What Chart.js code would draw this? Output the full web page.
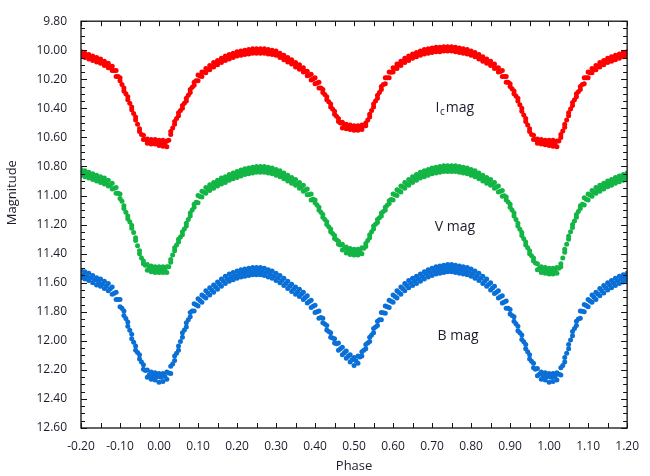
<!DOCTYPE html>
<html>
<head>
<meta charset="utf-8">
<script src="https://cdn.jsdelivr.net/npm/chart.js@4.4.1/dist/chart.umd.min.js"></script>
<style>
html,body{margin:0;padding:0;background:#fff;}
#wrap{width:650px;height:476px;position:relative;}
</style>
</head>
<body>
<div id="wrap"><canvas id="c" width="650" height="476"></canvas></div>
<script>
// Phase grid (every 0.01 from -0.20 to 1.20)
const phase = [-0.20,-0.19,-0.18,-0.17,-0.16,-0.15,-0.14,-0.13,-0.12,-0.11,-0.10,-0.09,-0.08,-0.07,-0.06,-0.05,-0.04,-0.03,-0.02,-0.01,
0.00,0.01,0.02,0.03,0.04,0.05,0.06,0.07,0.08,0.09,0.10,0.11,0.12,0.13,0.14,0.15,0.16,0.17,0.18,0.19,
0.20,0.21,0.22,0.23,0.24,0.25,0.26,0.27,0.28,0.29,0.30,0.31,0.32,0.33,0.34,0.35,0.36,0.37,0.38,0.39,
0.40,0.41,0.42,0.43,0.44,0.45,0.46,0.47,0.48,0.49,0.50,0.51,0.52,0.53,0.54,0.55,0.56,0.57,0.58,0.59,
0.60,0.61,0.62,0.63,0.64,0.65,0.66,0.67,0.68,0.69,0.70,0.71,0.72,0.73,0.74,0.75,0.76,0.77,0.78,0.79,
0.80,0.81,0.82,0.83,0.84,0.85,0.86,0.87,0.88,0.89,0.90,0.91,0.92,0.93,0.94,0.95,0.96,0.97,0.98,0.99,
1.00,1.01,1.02,1.03,1.04,1.05,1.06,1.07,1.08,1.09,1.10,1.11,1.12,1.13,1.14,1.15,1.16,1.17,1.18,1.19,1.20];
// Half-step phases (-0.195 ... 1.195)
const phaseHalf = [-0.195,-0.185,-0.175,-0.165,-0.155,-0.145,-0.135,-0.125,-0.115,-0.105,
-0.095,-0.085,-0.075,-0.065,-0.055,-0.045,-0.035,-0.025,-0.015,-0.005,
0.005,0.015,0.025,0.035,0.045,0.055,0.065,0.075,0.085,0.095,
0.105,0.115,0.125,0.135,0.145,0.155,0.165,0.175,0.185,0.195,
0.205,0.215,0.225,0.235,0.245,0.255,0.265,0.275,0.285,0.295,
0.305,0.315,0.325,0.335,0.345,0.355,0.365,0.375,0.385,0.395,
0.405,0.415,0.425,0.435,0.445,0.455,0.465,0.475,0.485,0.495,
0.505,0.515,0.525,0.535,0.545,0.555,0.565,0.575,0.585,0.595,
0.605,0.615,0.625,0.635,0.645,0.655,0.665,0.675,0.685,0.695,
0.705,0.715,0.725,0.735,0.745,0.755,0.765,0.775,0.785,0.795,
0.805,0.815,0.825,0.835,0.845,0.855,0.865,0.875,0.885,0.895,
0.905,0.915,0.925,0.935,0.945,0.955,0.965,0.975,0.985,0.995,
1.005,1.015,1.025,1.035,1.045,1.055,1.065,1.075,1.085,1.095,
1.105,1.115,1.125,1.135,1.145,1.155,1.165,1.175,1.185,1.195];

// Ic band: upper (bright) edge and lower (faint) edge, plus band centre at half steps
const icUpper = [10.01,10.02,10.03,10.04,10.05,10.06,10.075,10.09,10.11,10.14,10.19,10.26,10.32,10.39,10.46,10.54,10.585,10.61,10.615,10.615,
10.62,10.62,10.625,10.56,10.49,10.43,10.38,10.33,10.27,10.22,10.17,10.15,10.125,10.105,10.085,10.07,10.055,10.04,10.03,10.02,
10.01,10.005,10.0,9.995,9.99,9.99,9.99,9.99,9.995,10.0,10.005,10.02,10.035,10.05,10.065,10.085,10.10,10.12,10.145,10.165,
10.19,10.22,10.27,10.32,10.37,10.42,10.47,10.495,10.51,10.515,10.52,10.52,10.515,10.50,10.44,10.37,10.31,10.25,10.19,10.15,
10.12,10.095,10.075,10.055,10.04,10.025,10.015,10.005,9.995,9.99,9.985,9.98,9.98,9.975,9.975,9.975,9.98,9.985,9.99,9.995,
10.005,10.015,10.03,10.045,10.06,10.075,10.095,10.12,10.14,10.18,10.23,10.28,10.33,10.40,10.47,10.54,10.585,10.61,10.615,10.62,
10.62,10.62,10.625,10.58,10.51,10.43,10.36,10.30,10.25,10.19,10.15,10.125,10.105,10.085,10.07,10.055,10.045,10.035,10.025,10.015,10.01];
const icLower = [10.04,10.05,10.06,10.07,10.08,10.09,10.105,10.12,10.14,10.18,10.21,10.28,10.34,10.41,10.48,10.56,10.615,10.64,10.645,10.645,
10.655,10.66,10.665,10.58,10.51,10.45,10.40,10.35,10.29,10.24,10.21,10.18,10.155,10.135,10.115,10.10,10.085,10.07,10.06,10.05,
10.04,10.035,10.03,10.025,10.02,10.02,10.02,10.02,10.025,10.03,10.035,10.05,10.065,10.08,10.095,10.115,10.13,10.15,10.175,10.205,
10.23,10.26,10.29,10.34,10.39,10.44,10.49,10.535,10.54,10.545,10.55,10.55,10.545,10.52,10.46,10.39,10.33,10.27,10.23,10.19,
10.15,10.125,10.105,10.085,10.07,10.055,10.045,10.035,10.025,10.02,10.015,10.01,10.01,10.005,10.005,10.005,10.01,10.015,10.02,10.025,
10.035,10.045,10.06,10.075,10.09,10.105,10.125,10.15,10.18,10.22,10.25,10.30,10.35,10.42,10.49,10.56,10.615,10.64,10.645,10.65,
10.655,10.66,10.665,10.60,10.53,10.45,10.38,10.32,10.27,10.23,10.19,10.155,10.135,10.115,10.10,10.085,10.075,10.065,10.055,10.045,10.04];
const icHalf = [10.03,10.04,10.05,10.06,10.07,10.082,10.097,10.115,10.14,10.18,
10.235,10.30,10.365,10.435,10.51,10.58,10.615,10.628,10.63,10.632,
10.638,10.643,10.62,10.535,10.47,10.415,10.365,10.31,10.255,10.21,
10.177,10.152,10.13,10.11,10.092,10.077,10.062,10.05,10.04,10.03,
10.022,10.017,10.012,10.007,10.005,10.005,10.005,10.007,10.012,10.017,
10.027,10.042,10.057,10.072,10.09,10.107,10.125,10.147,10.172,10.197,
10.225,10.26,10.305,10.355,10.405,10.455,10.50,10.52,10.528,10.533,
10.535,10.533,10.522,10.48,10.415,10.35,10.29,10.235,10.19,10.152,
10.122,10.10,10.08,10.062,10.047,10.035,10.025,10.015,10.007,10.002,
9.997,9.995,9.992,9.99,9.99,9.992,9.997,10.002,10.007,10.015,
10.025,10.037,10.052,10.067,10.082,10.10,10.122,10.147,10.18,10.22,
10.265,10.315,10.375,10.445,10.515,10.58,10.615,10.628,10.633,10.635,
10.638,10.643,10.625,10.555,10.48,10.405,10.34,10.285,10.235,10.19,
10.155,10.13,10.11,10.092,10.077,10.065,10.055,10.045,10.035,10.027];

// V band
const vUpper = [10.82,10.83,10.84,10.85,10.86,10.87,10.88,10.895,10.915,10.945,10.99,11.07,11.14,11.205,11.29,11.38,11.45,11.475,11.485,11.49,
11.49,11.49,11.49,11.44,11.36,11.30,11.25,11.19,11.12,11.06,11.0,10.97,10.945,10.925,10.91,10.895,10.88,10.87,10.855,10.845,
10.835,10.825,10.815,10.81,10.805,10.80,10.80,10.80,10.805,10.81,10.82,10.83,10.845,10.86,10.875,10.89,10.91,10.93,10.955,10.99,
11.03,11.08,11.13,11.18,11.23,11.275,11.315,11.335,11.355,11.365,11.37,11.37,11.36,11.33,11.27,11.21,11.165,11.12,11.08,11.035,
10.99,10.96,10.935,10.91,10.89,10.87,10.855,10.84,10.83,10.82,10.81,10.805,10.80,10.795,10.795,10.795,10.795,10.80,10.805,10.81,
10.82,10.83,10.845,10.86,10.875,10.89,10.91,10.935,10.965,11.01,11.06,11.12,11.19,11.255,11.32,11.38,11.43,11.47,11.49,11.495,
11.50,11.50,11.495,11.47,11.37,11.28,11.20,11.13,11.07,11.015,10.99,10.965,10.945,10.93,10.915,10.90,10.89,10.875,10.865,10.855,10.845];
const vLower = [10.86,10.87,10.88,10.89,10.90,10.91,10.92,10.935,10.955,10.985,11.02,11.09,11.16,11.225,11.31,11.40,11.47,11.515,11.525,11.53,
11.53,11.53,11.53,11.46,11.38,11.32,11.27,11.21,11.14,11.08,11.05,11.01,10.985,10.965,10.95,10.935,10.92,10.91,10.895,10.885,
10.875,10.865,10.855,10.85,10.845,10.84,10.84,10.84,10.845,10.85,10.86,10.87,10.885,10.90,10.915,10.93,10.95,10.97,10.995,11.03,
11.05,11.10,11.15,11.20,11.25,11.295,11.335,11.375,11.395,11.405,11.41,11.41,11.40,11.35,11.29,11.23,11.185,11.14,11.10,11.055,
11.03,11.0,10.975,10.95,10.93,10.91,10.895,10.88,10.87,10.86,10.85,10.845,10.84,10.835,10.835,10.835,10.835,10.84,10.845,10.85,
10.86,10.87,10.885,10.90,10.915,10.93,10.95,10.975,11.005,11.03,11.08,11.14,11.21,11.275,11.34,11.40,11.45,11.51,11.53,11.535,
11.54,11.54,11.535,11.49,11.39,11.30,11.22,11.15,11.09,11.065,11.03,11.005,10.985,10.97,10.955,10.94,10.93,10.915,10.905,10.895,10.885];
const vHalf = [10.845,10.855,10.865,10.875,10.885,10.895,10.907,10.925,10.95,10.985,
11.04,11.115,11.18,11.255,11.345,11.43,11.48,11.50,11.508,11.51,
11.51,11.51,11.49,11.41,11.34,11.285,11.23,11.165,11.10,11.047,
11.007,10.977,10.955,10.937,10.922,10.907,10.895,10.882,10.87,10.86,
10.85,10.84,10.832,10.827,10.822,10.82,10.82,10.822,10.827,10.835,
10.845,10.857,10.872,10.887,10.902,10.92,10.94,10.962,10.992,11.025,
11.065,11.115,11.165,11.215,11.262,11.305,11.34,11.365,11.38,11.388,
11.39,11.385,11.362,11.31,11.25,11.197,11.152,11.11,11.067,11.027,
10.995,10.967,10.942,10.92,10.90,10.882,10.867,10.855,10.845,10.835,
10.827,10.822,10.817,10.815,10.815,10.815,10.817,10.822,10.827,10.835,
10.845,10.857,10.872,10.887,10.902,10.92,10.942,10.97,11.002,11.045,
11.10,11.165,11.232,11.297,11.36,11.415,11.465,11.50,11.513,11.518,
11.52,11.518,11.50,11.43,11.335,11.25,11.175,11.11,11.06,11.025,
10.997,10.975,10.957,10.942,10.927,10.915,10.902,10.89,10.88,10.87];

// B band
const bUpper = [11.515,11.525,11.535,11.55,11.565,11.575,11.59,11.605,11.63,11.665,11.715,11.795,11.87,11.955,12.035,12.095,12.165,12.20,12.215,12.22,
12.225,12.225,12.215,12.175,12.105,12.035,11.945,11.875,11.805,11.745,11.71,11.685,11.655,11.635,11.615,11.595,11.575,11.555,11.54,11.53,
11.52,11.51,11.505,11.50,11.495,11.495,11.495,11.50,11.51,11.52,11.535,11.55,11.57,11.59,11.61,11.63,11.645,11.665,11.69,11.72,
11.755,11.795,11.845,11.895,11.945,11.985,12.015,12.045,12.07,12.095,12.115,12.105,12.075,12.025,11.975,11.915,11.865,11.805,11.76,11.72,
11.685,11.655,11.63,11.605,11.585,11.57,11.555,11.54,11.525,11.51,11.50,11.49,11.485,11.48,11.475,11.475,11.48,11.485,11.49,11.495,
11.505,11.52,11.535,11.555,11.575,11.60,11.625,11.655,11.69,11.725,11.785,11.835,11.90,11.96,12.025,12.095,12.155,12.19,12.215,12.22,
12.225,12.225,12.22,12.185,12.115,12.025,11.935,11.865,11.795,11.75,11.715,11.685,11.665,11.64,11.62,11.60,11.585,11.57,11.555,11.545,11.535];
const bLower = [11.565,11.575,11.585,11.60,11.615,11.625,11.64,11.655,11.68,11.715,11.765,11.825,11.90,11.985,12.065,12.125,12.195,12.25,12.265,12.27,
12.285,12.28,12.265,12.225,12.135,12.065,11.975,11.905,11.835,11.795,11.76,11.735,11.705,11.685,11.665,11.645,11.625,11.605,11.59,11.58,
11.57,11.56,11.555,11.55,11.545,11.545,11.545,11.55,11.56,11.57,11.585,11.60,11.62,11.64,11.66,11.68,11.695,11.715,11.74,11.77,
11.805,11.845,11.875,11.925,11.975,12.015,12.065,12.095,12.12,12.145,12.17,12.155,12.105,12.055,12.005,11.945,11.895,11.855,11.81,11.77,
11.735,11.705,11.68,11.655,11.635,11.62,11.605,11.59,11.575,11.56,11.55,11.54,11.535,11.53,11.525,11.525,11.53,11.535,11.54,11.545,
11.555,11.57,11.585,11.605,11.625,11.65,11.675,11.705,11.74,11.775,11.815,11.865,11.93,11.99,12.055,12.125,12.185,12.24,12.265,12.27,
12.285,12.28,12.27,12.235,12.145,12.055,11.965,11.895,11.845,11.80,11.765,11.735,11.715,11.69,11.67,11.65,11.635,11.62,11.605,11.595,11.585];
const bHalf = [11.545,11.555,11.567,11.582,11.595,11.607,11.622,11.642,11.672,11.715,
11.775,11.847,11.927,12.01,12.08,12.145,12.205,12.233,12.243,12.248,
12.25,12.245,12.222,12.16,12.085,12.005,11.925,11.855,11.795,11.752,
11.722,11.695,11.67,11.65,11.63,11.61,11.59,11.572,11.56,11.55,
11.54,11.532,11.527,11.522,11.52,11.52,11.522,11.53,11.54,11.552,
11.567,11.585,11.605,11.625,11.645,11.662,11.68,11.702,11.73,11.762,
11.80,11.84,11.885,11.935,11.98,12.02,12.055,12.082,12.107,12.13,
12.137,12.112,12.065,12.015,11.96,11.905,11.855,11.807,11.765,11.727,
11.695,11.667,11.642,11.62,11.602,11.587,11.572,11.557,11.542,11.53,
11.52,11.512,11.507,11.502,11.50,11.502,11.507,11.512,11.517,11.525,
11.537,11.552,11.57,11.59,11.612,11.637,11.665,11.697,11.732,11.775,
11.825,11.882,11.945,12.007,12.075,12.14,12.195,12.23,12.243,12.248,
12.25,12.248,12.23,12.17,12.085,11.995,11.915,11.85,11.797,11.757,
11.725,11.70,11.677,11.655,11.635,11.617,11.602,11.587,11.575,11.565];

const seriesLabels = ['Ic mag','V mag','B mag'];
const xTickValues = [-0.20,-0.10,0.00,0.10,0.20,0.30,0.40,0.50,0.60,0.70,0.80,0.90,1.00,1.10,1.20];
const yTickValues = [9.80,10.00,10.20,10.40,10.60,10.80,11.00,11.20,11.40,11.60,11.80,12.00,12.20,12.40,12.60];

const RED = '#ff0000', GREEN = '#13b545', BLUE = '#0a6fd6';
const FONT = "'Open Sans', 'DejaVu Sans', sans-serif";
const TXT = '#1c1c2c';

function pts(xs, ys){ return xs.map((p,i)=>({x:p, y:ys[i]})); }
function ds(label, xs, ys, color){
  return {label, data: pts(xs, ys), backgroundColor: color, borderColor: color, borderWidth: 0, pointRadius: 2.5, pointHoverRadius: 2.5, showLine:false};
}

const decor = {
  id:'decor',
  afterDraw(chart){
    const ctx = chart.ctx, a = chart.chartArea, xs = chart.scales.x, ys = chart.scales.y;
    ctx.save();
    ctx.strokeStyle = '#111';
    ctx.lineWidth = 1.3;
    ctx.strokeRect(a.left, a.top, a.right-a.left, a.bottom-a.top);
    ctx.lineWidth = 1;
    ctx.beginPath();
    for(let k=-4;k<=24;k++){
      const px = Math.round(xs.getPixelForValue(k*0.05))+0.5;
      ctx.moveTo(px, a.bottom); ctx.lineTo(px, a.bottom-5);
      ctx.moveTo(px, a.top); ctx.lineTo(px, a.top+5);
    }
    for(let k=196;k<=252;k++){
      const py = Math.round(ys.getPixelForValue(k*0.05))+0.5;
      const len = (k%4===0)?6:4;
      ctx.moveTo(a.left, py); ctx.lineTo(a.left+len, py);
      ctx.moveTo(a.right, py); ctx.lineTo(a.right-len, py);
    }
    ctx.stroke();

    // axis titles
    ctx.fillStyle = TXT;
    ctx.font = '13px ' + FONT;
    ctx.textAlign = 'center'; ctx.textBaseline = 'middle';
    ctx.fillText('Phase', xs.getPixelForValue(0.5), 466);
    ctx.save();
    ctx.translate(12, ys.getPixelForValue(10.98));
    ctx.rotate(-Math.PI/2);
    ctx.fillText('Magnitude', 0, 0);
    ctx.restore();

    // series labels
    ctx.font = '14px ' + FONT;
    ctx.textAlign = 'left';
    let x0 = xs.getPixelForValue(0.709), y0 = ys.getPixelForValue(10.40);
    ctx.fillText('I', x0, y0);
    let w = ctx.measureText('I').width;
    ctx.font = '10px ' + FONT;
    ctx.fillText('c', x0 + w + 0.5, y0 + 4);
    const wc = ctx.measureText('c').width;
    ctx.font = '14px ' + FONT;
    ctx.fillText('mag', x0 + w + wc + 1.5, y0);
    ctx.fillText('V mag', xs.getPixelForValue(0.707), ys.getPixelForValue(11.215));
    ctx.fillText('B mag', xs.getPixelForValue(0.714), ys.getPixelForValue(11.967));
    ctx.restore();
  }
};

new Chart(document.getElementById('c'), {
  type: 'scatter',
  data: {
    datasets: [
      ds(seriesLabels[0], phase, icUpper, RED),
      ds(seriesLabels[0], phase, icLower, RED),
      ds(seriesLabels[0], phaseHalf, icHalf, RED),
      ds(seriesLabels[1], phase, vUpper, GREEN),
      ds(seriesLabels[1], phase, vLower, GREEN),
      ds(seriesLabels[1], phaseHalf, vHalf, GREEN),
      ds(seriesLabels[2], phase, bUpper, BLUE),
      ds(seriesLabels[2], phase, bLower, BLUE),
      ds(seriesLabels[2], phaseHalf, bHalf, BLUE)
    ]
  },
  options: {
    responsive: false,
    animation: false,
    events: [],
    layout: { padding: { top: 10, right: 12, left: 0, bottom: 0 } },
    plugins: { legend: { display: false }, tooltip: { enabled: false } },
    scales: {
      x: {
        type: 'linear', min: -0.2, max: 1.2,
        afterBuildTicks(s){ s.ticks = xTickValues.map(v=>({value:v})); },
        afterFit(s){ s.height = 48; },
        grid: { display: false, drawTicks: false },
        border: { display: false },
        ticks: { padding: 11, color: TXT, font: { family: FONT, size: 12 },
          callback: v => (Math.abs(v) < 1e-9 ? 0 : v).toFixed(2) }
      },
      y: {
        type: 'linear', reverse: true, min: 9.8, max: 12.6,
        afterBuildTicks(s){ s.ticks = yTickValues.map(v=>({value:v})); },
        afterFit(s){ s.width = 81; },
        grid: { display: false, drawTicks: false },
        border: { display: false },
        ticks: { padding: 14, color: TXT, font: { family: FONT, size: 12 },
          callback: v => v.toFixed(2) }
      }
    }
  },
  plugins: [decor]
});
</script>
</body>
</html>
